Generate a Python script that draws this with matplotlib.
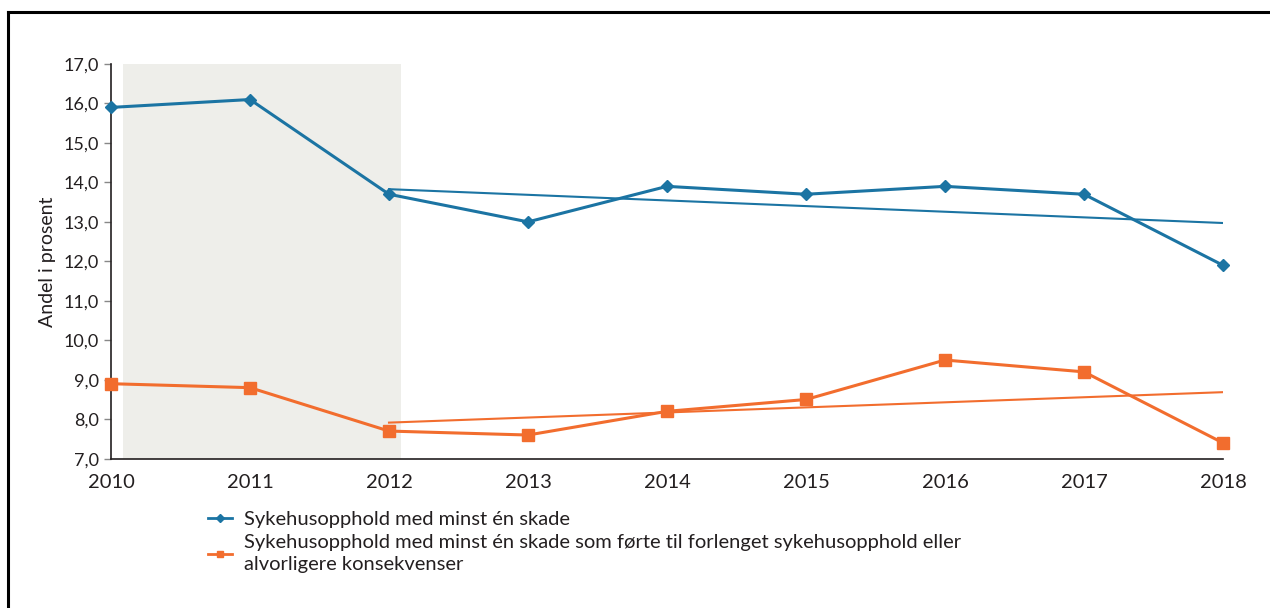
import numpy as np
import matplotlib
matplotlib.use("Agg")
import matplotlib.pyplot as plt
import matplotlib.transforms as mtransforms
from matplotlib.lines import Line2D

plt.rcParams['font.family'] = ['Lato', 'DejaVu Sans']

years = [2010, 2011, 2012, 2013, 2014, 2015, 2016, 2017, 2018]
minst_en_skade = [15.9, 16.1, 13.7, 13.0, 13.9, 13.7, 13.9, 13.7, 11.9]
alvorlig_skade = [8.9, 8.8, 7.7, 7.6, 8.2, 8.5, 9.5, 9.2, 7.4]
trend_start_year = 2012
shade_years = (2010, 2012)
y_ticks = [7, 8, 9, 10, 11, 12, 13, 14, 15, 16, 17]

label_blue = "Sykehusopphold med minst én skade"
label_orange = ("Sykehusopphold med minst én skade som førte til forlenget sykehusopphold eller\n"
                "alvorligere konsekvenser")

BLUE = "#1b74a3"
ORANGE = "#f26d2e"
SHADE = "#eeeeea"
TEXT = "#231f20"

fig = plt.figure(figsize=(12.7, 6.08), dpi=100)
ax = fig.add_axes([111 / 1270, 1 - 458.7 / 608, (1223 - 111) / 1270, (458.7 - 64) / 608])

x = np.array(years, dtype=float)

# grey band behind the first period, aligned with the year labels
step = x[1] - x[0]
offset = 12 / 139 * step
ax.axvspan(shade_years[0] + offset, shade_years[1] + offset, color=SHADE, lw=0, zorder=0)

# series
ax.plot(x, minst_en_skade, color=BLUE, lw=2.2, marker="D", ms=6.5, zorder=4, clip_on=False)
ax.plot(x, alvorlig_skade, color=ORANGE, lw=2.2, marker="s", ms=8, zorder=4, clip_on=False)

# linear trends from the trend start year
mask = x >= trend_start_year
for vals, col in ((minst_en_skade, BLUE), (alvorlig_skade, ORANGE)):
    v = np.array(vals)
    k, m = np.polyfit(x[mask], v[mask], 1)
    ax.plot(x[mask], k * x[mask] + m, color=col, lw=1.5, zorder=3)

ax.set_xlim(x[0], x[-1])
ax.set_ylim(y_ticks[0], y_ticks[-1])
ax.set_yticks(y_ticks)
ax.set_yticklabels([f"{t:.1f}".replace(".", ",") for t in y_ticks], fontsize=13, color=TEXT)
ax.set_xticks(x)
ax.set_xticklabels([str(y) for y in years], fontsize=14.5, color=TEXT)
shift = mtransforms.ScaledTranslation(12 / 100, 0, fig.dpi_scale_trans)
for lbl in ax.get_xticklabels():
    lbl.set_transform(lbl.get_transform() + shift)
ax.tick_params(axis="x", length=0, pad=11)
ax.tick_params(axis="y", length=5, width=1, color="#888888", pad=4)

for s in ("top", "right"):
    ax.spines[s].set_visible(False)
for s in ("left", "bottom"):
    ax.spines[s].set_color(TEXT)
    ax.spines[s].set_linewidth(1.2)

ax.set_ylabel("Andel i prosent", fontsize=14, color=TEXT, labelpad=5)

handles = [
    Line2D([], [], color=BLUE, lw=2, marker="D", ms=4),
    Line2D([], [], color=ORANGE, lw=2, marker="s", ms=5),
]
leg = fig.legend(handles, [label_blue, label_orange], loc="upper left",
                 bbox_to_anchor=(200 / 1270, 1 - 503 / 608), frameon=False,
                 fontsize=14.5, handlelength=1.2, handletextpad=0.6, labelspacing=0.3,
                 borderaxespad=0, labelcolor=TEXT)
for t in leg.get_texts():
    t.set_linespacing(1.35)

# frame along the top and left edges of the figure
fig.add_artist(Line2D([8 / 1270, 1], [1 - 12 / 608, 1 - 12 / 608], color="black", lw=2.2,
                      transform=fig.transFigure))
fig.add_artist(Line2D([8 / 1270, 8 / 1270], [0, 1 - 12 / 608], color="black", lw=2.2,
                      transform=fig.transFigure))

fig.savefig("out.png", dpi=100)
